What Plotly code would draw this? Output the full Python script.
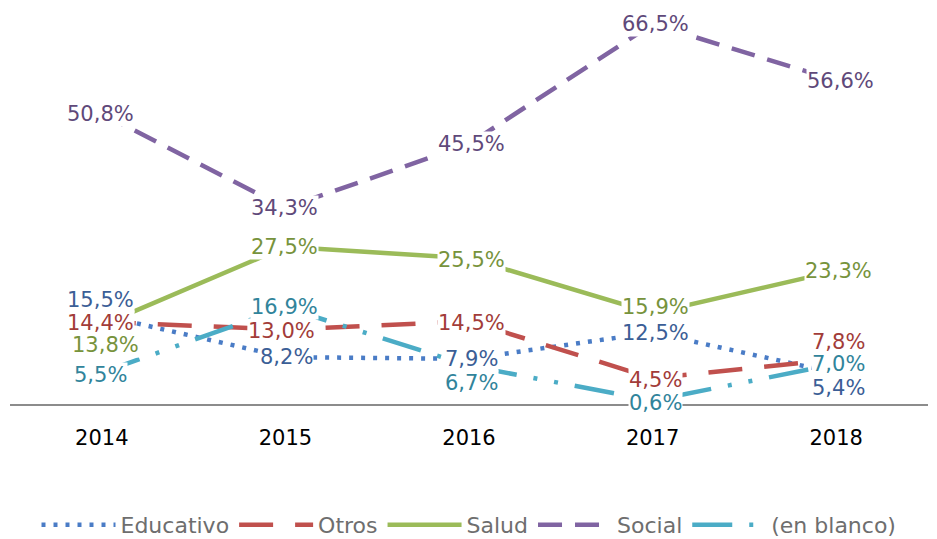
import plotly.graph_objects as go

years = ["2014", "2015", "2016", "2017", "2018"]
educativo = [15.5, 8.2, 7.9, 12.5, 5.4]
otros = [14.4, 13.0, 14.5, 4.5, 7.8]
salud = [13.8, 27.5, 25.5, 15.9, 23.3]
social = [50.8, 34.3, 45.5, 66.5, 56.6]
en_blanco = [5.5, 16.9, 6.7, 0.6, 7.0]

series = [
    ("Educativo", educativo, "#4A7CC6", "#3B5E96", "4px,8px"),
    ("Otros", otros, "#C0504D", "#A23C39", "34px,22px"),
    ("Salud", salud, "#9BBB59", "#77933C", "solid"),
    ("Social", social, "#8064A2", "#5F497A", "24px,13px"),
    ("(en blanco)", en_blanco, "#4BACC6", "#31849B", "40px,17px,4px,17px,4px,17px"),
]

# label offsets (pixels) to keep labels apart, as in the reference
yshifts = {
    "Educativo": [15, 0, 0, 0, -15],
    "Otros": [-1, -1, -2, -2, 17],
    "Salud": [-20, 0, -2, 6, 0],
    "Social": [0, 0, 0, 0, 0],
    "(en blanco)": [-2, 0, -17, -2, 0],
}
xshifts = {
    "Educativo": [-1, 1, 2, 3, 2],
    "Otros": [-1, -4, 2, 3, 2],
    "Salud": [4, -1, 2, 3, 2],
    "Social": [-1, -1, 2, 3, 4],
    "(en blanco)": [-1, -1, 2, 3, 2],
}

FONT = "DejaVu Sans"

fig = go.Figure()
for name, vals, col, lcol, dash in series:
    fig.add_trace(go.Scatter(
        x=years, y=vals, name=name, mode="lines",
        line=dict(color=col, width=4.5, dash=dash),
    ))

for name, vals, col, lcol, dash in series:
    for i in range(len(years)):
        v = vals[i]
        fig.add_annotation(
            x=i, y=v, xref="x", yref="y",
            text=("%.1f%%" % v).replace(".", ","),
            showarrow=False, bgcolor="#ffffff", borderpad=0,
            font=dict(family=FONT, size=21, color=lcol),
            xshift=xshifts[name][i], yshift=yshifts[name][i],
        )

fig.update_layout(
    width=937, height=539,
    margin=dict(l=10, r=9, t=4, b=135, autoexpand=False),
    plot_bgcolor="white", paper_bgcolor="white",
    showlegend=True,
    legend=dict(orientation="h", x=0.5, xanchor="center",
                y=-0.3025, yanchor="middle",
                font=dict(family=FONT, size=22, color="#6E6E6E"),
                itemwidth=74, tracegroupgap=0),
    xaxis=dict(type="category", range=[-0.5, 4.5], showgrid=False, zeroline=False,
               showline=True, linecolor="#8C8C8C", linewidth=2, automargin=False,
               ticks="outside", ticklen=14, tickcolor="rgba(0,0,0,0)",
               tickfont=dict(family=FONT, size=21, color="black")),
    yaxis=dict(range=[0, 70], visible=True, showticklabels=False, showline=False,
               showgrid=False, zeroline=False, ticks="", automargin=False),
)

fig.write_html("out.html",
               config={"displayModeBar": False},
               post_script="document.body.style.margin='0';document.body.style.padding='0';")
